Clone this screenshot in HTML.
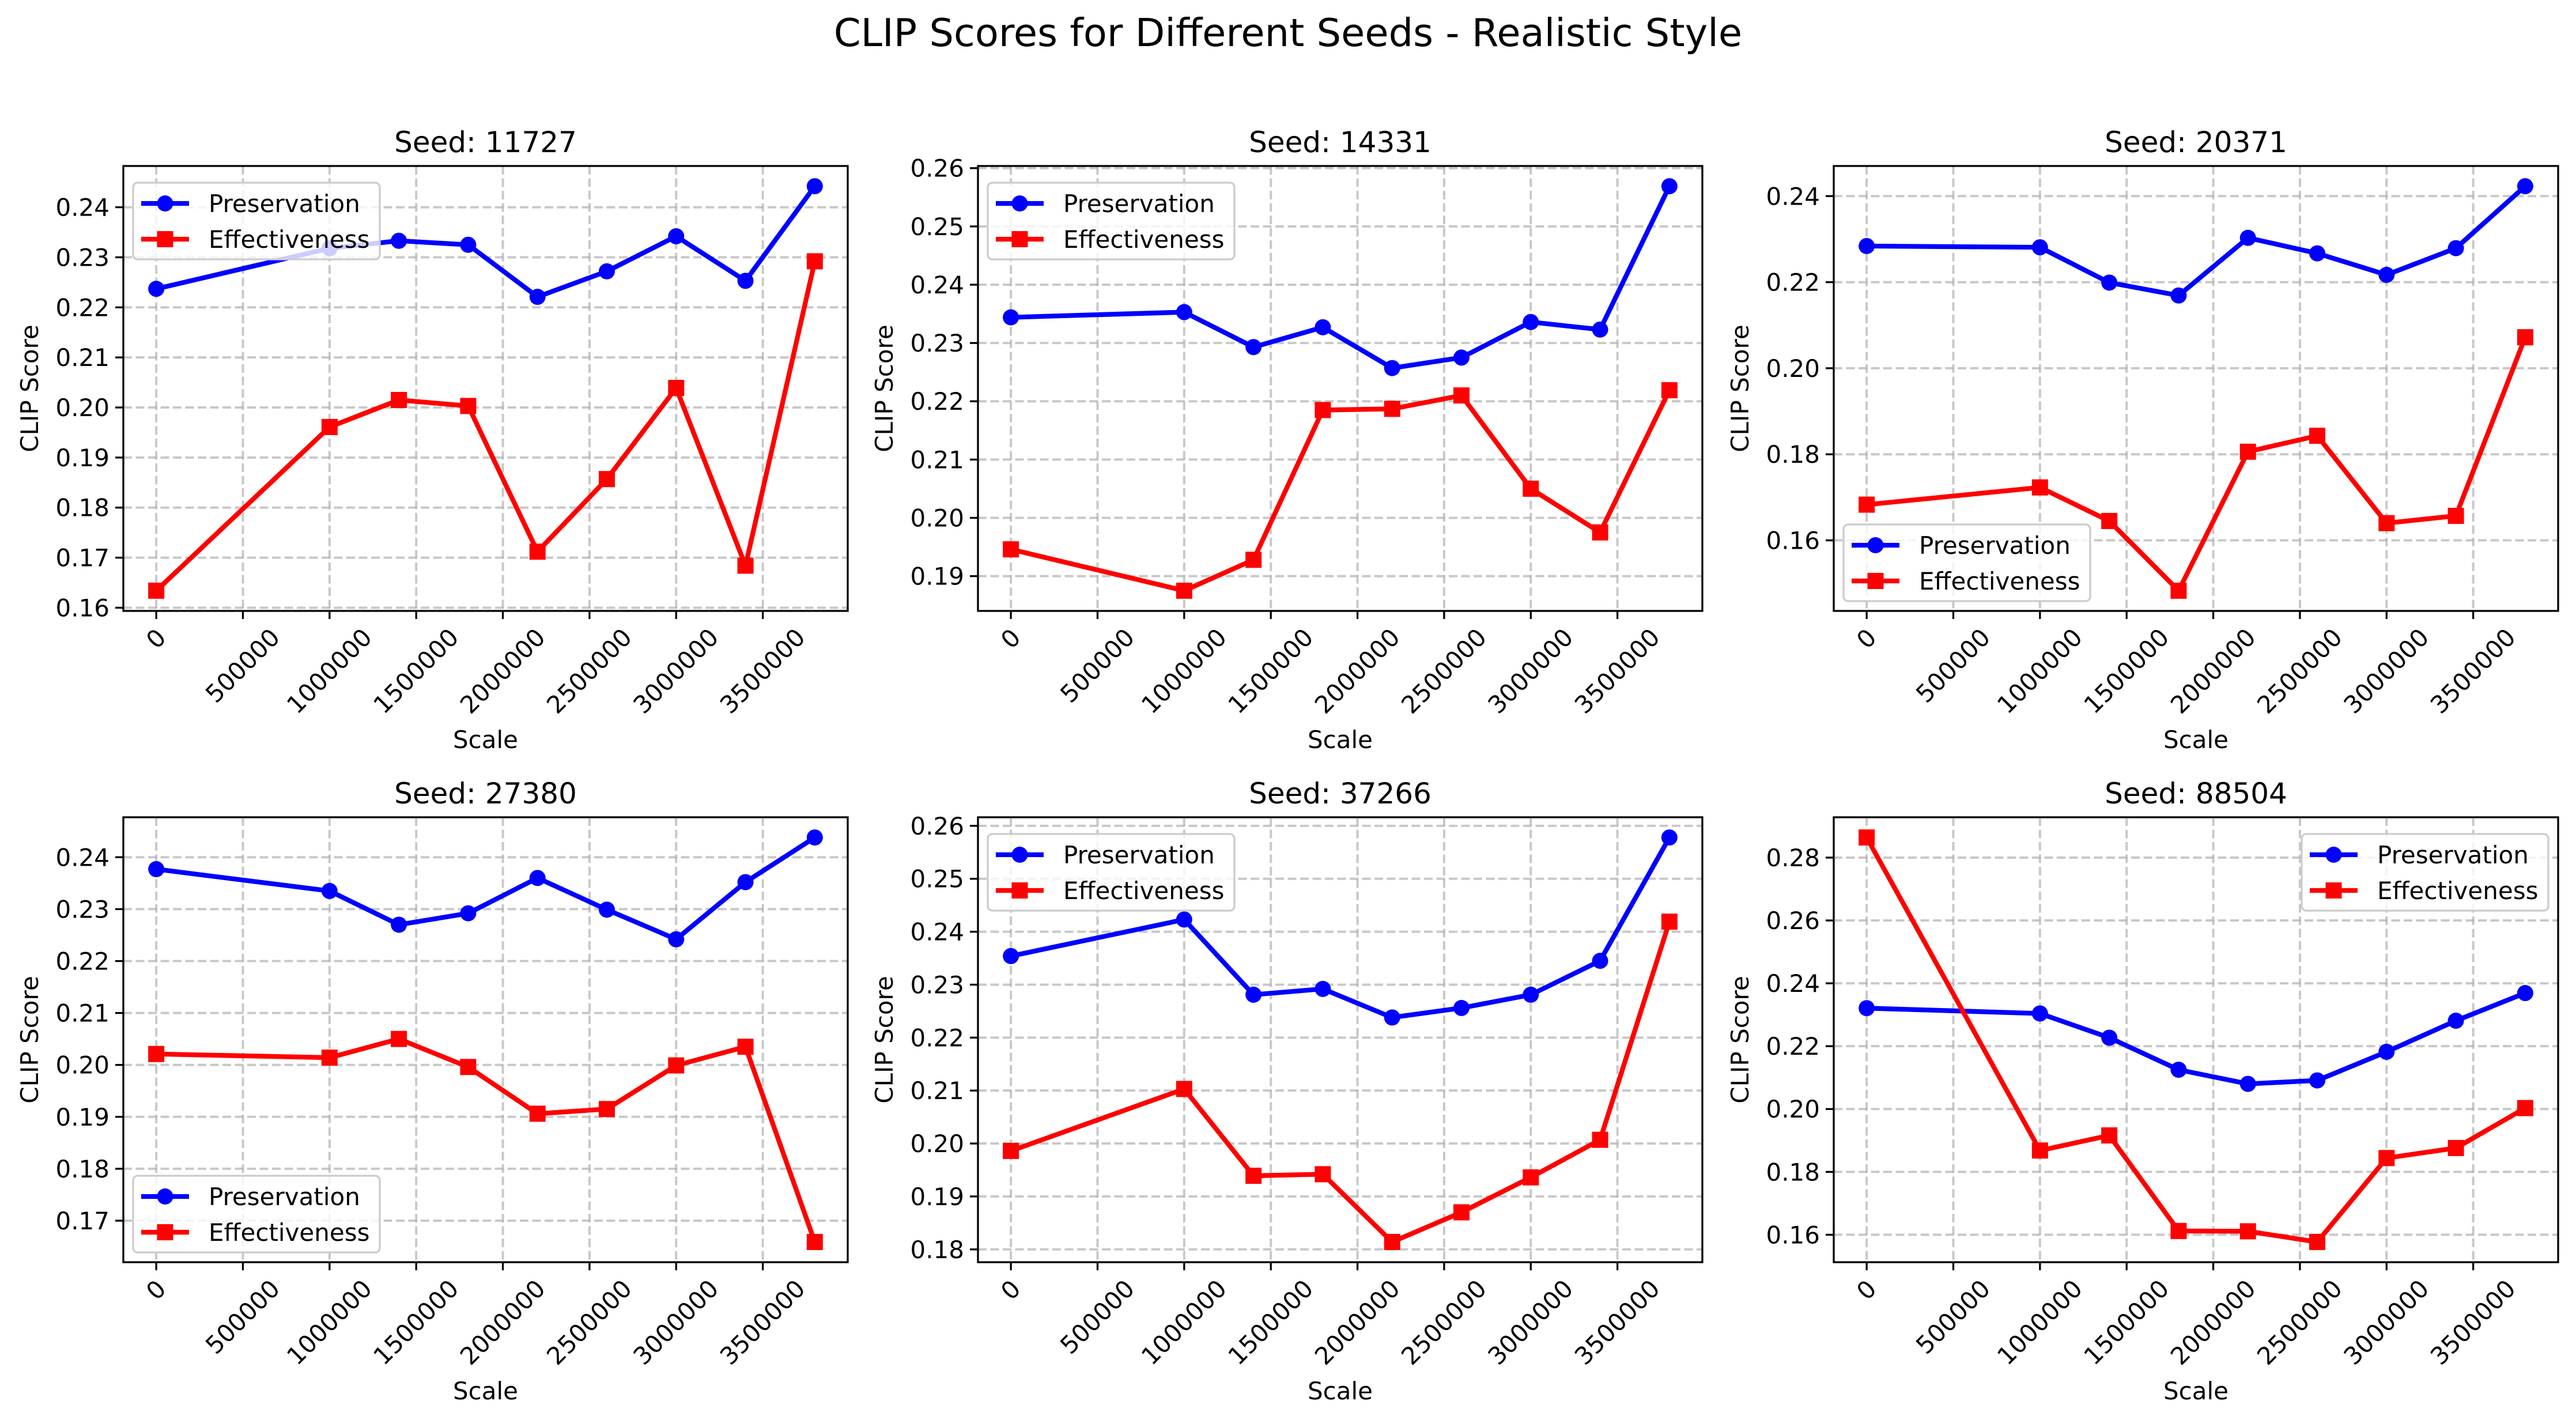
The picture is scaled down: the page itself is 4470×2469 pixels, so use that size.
<!DOCTYPE html>
<html><head><meta charset="utf-8"><style>
body{margin:0;background:#fff}
svg text{font-family:"DejaVu Sans","Liberation Sans",sans-serif;fill:#000}
</style></head><body>
<svg id="fig" width="4470" height="2464" viewBox="0 0 4470 2464" xmlns="http://www.w3.org/2000/svg">
<rect width="4470" height="2464" fill="#fff"/>
<text x="2235" y="80" font-size="67" text-anchor="middle">CLIP Scores for Different Seeds - Realistic Style</text>
</svg>
<script>
const seeds = ["11727","14331","20371","27380","37266","88504"];
const scales = [0,1000000,1400000,1800000,2200000,2600000,3000000,3400000,3800000];
const xTicks = [0,500000,1000000,1500000,2000000,2500000,3000000,3500000];
const pres1 = [.2237,.2318,.2333,.2325,.2221,.2272,.2342,.2253,.2442];
const eff1 = [.1634,.1961,.2015,.2003,.1712,.1857,.2039,.1684,.2292];
const pres2 = [.2344,.2353,.2293,.2327,.2257,.2275,.2336,.2323,.2569];
const eff2 = [.1946,.1875,.1928,.2185,.2187,.2210,.2050,.1975,.2219];
const pres3 = [.2284,.2281,.2199,.2169,.2303,.2267,.2217,.2279,.2423];
const eff3 = [.1683,.1723,.1645,.1483,.1806,.1843,.1640,.1657,.2072];
const pres4 = [.2377,.2335,.2270,.2292,.2360,.2299,.2242,.2352,.2438];
const eff4 = [.2021,.2014,.2050,.1996,.1906,.1915,.1999,.2035,.1659];
const pres5 = [.2354,.2423,.2281,.2292,.2238,.2256,.2281,.2345,.2578];
const eff5 = [.1986,.2103,.1939,.1942,.1814,.1870,.1936,.2007,.2419];
const pres6 = [.2321,.2304,.2227,.2125,.2080,.2091,.2182,.2281,.2369];
const eff6 = [.2864,.1868,.1916,.1612,.1611,.1577,.1844,.1876,.2003];
const yStep = [0.01,0.01,0.02,0.01,0.01,0.02];
const legendLoc = ["ul","ul","ll","ll","ul","ur"];
const presAll=[pres1,pres2,pres3,pres4,pres5,pres6];
const effAll=[eff1,eff2,eff3,eff4,eff5,eff6];

const NS="http://www.w3.org/2000/svg";
const svg=document.getElementById('fig');
function mk(tag,attrs,parent){const e=document.createElementNS(NS,tag);for(const k in attrs)e.setAttribute(k,attrs[k]);(parent||svg).appendChild(e);return e;}
const colL=[214,1697,3182], rowT=[288,1418], W=1257, H=772;
const MR=14;
for(let i=0;i<6;i++){
  const L=colL[i%3], T=rowT[Math.floor(i/3)];
  const g=mk('g',{});
  
  
  const p=presAll[i], e=effAll[i];
  const all=p.concat(e);
  let mn=Math.min(...all), mx=Math.max(...all), r=mx-mn;
  const y0=mn-0.05*r, y1=mx+0.05*r;
  const xr=scales[scales.length-1]-scales[0];
  const x0=scales[0]-0.05*xr, x1=scales[scales.length-1]+0.05*xr;
  const X=v=>L+(v-x0)/(x1-x0)*W;
  const Y=v=>T+H-(v-y0)/(y1-y0)*H;
  xTicks.forEach(t=>{
    const x=X(t);
    const gl=mk('line',{x1:x,x2:x,y1:T,y2:T+H,stroke:'#b0b0b0','stroke-opacity':0.7,'stroke-width':4,'stroke-dasharray':'15,6.5'},g);
    
    
    mk('line',{x1:x,x2:x,y1:T+H,y2:T+H+14,stroke:'#000','stroke-width':3.3},g);
    const s=String(t);
    const hw=(s.length*26.5*0.707+42*0.707*0.75)/2;
    const cy=T+H+14+14+hw;
    const tx=mk('text',{x:x,y:cy+14,'font-size':42,'text-anchor':'middle',transform:`rotate(-45 ${x} ${cy})`},g);
    tx.textContent=s;
    
    
  });
  const st=yStep[i];
  for(let k=Math.ceil(y0/st-1e-9);k*st<=y1+1e-9;k++){
    const v=k*st, y=Y(v);
    const gl=mk('line',{x1:L,x2:L+W,y1:y,y2:y,stroke:'#b0b0b0','stroke-opacity':0.7,'stroke-width':4,'stroke-dasharray':'15,6.5'},g);
    
    
    mk('line',{x1:L-14,x2:L,y1:y,y2:y,stroke:'#000','stroke-width':3.3},g);
    const tx=mk('text',{x:L-24,y:y+15,'font-size':42,'text-anchor':'end'},g);
    tx.textContent=v.toFixed(2);
    
    
  }
  const drawSeries=(vals,color,marker,name)=>{
    const sg=mk('g',{},g);
    
    
    mk('polyline',{points:vals.map((v,j)=>X(scales[j])+','+Y(v)).join(' '),fill:'none',stroke:color,'stroke-width':8.3,'stroke-linejoin':'round'},sg);
    vals.forEach((v,j)=>{
      let m;
      if(marker==='o') m=mk('circle',{cx:X(scales[j]),cy:Y(v),r:MR,fill:color},sg);
      else m=mk('rect',{x:X(scales[j])-MR,y:Y(v)-MR,width:2*MR,height:2*MR,fill:color},sg);
      
      
    });
  };
  drawSeries(p,'#0000ff','o','preservation');
  drawSeries(e,'#ff0000','s','effectiveness');
  const fr=mk('rect',{x:L,y:T,width:W,height:H,fill:'none',stroke:'#000','stroke-width':3.3},g);
  
  
  const tt=mk('text',{x:L+W/2,y:T-24,'font-size':50,'text-anchor':'middle'},g);
  tt.textContent='Seed: '+seeds[i];
  
  
  const xl=mk('text',{x:L+W/2,y:T+H+238,'font-size':42,'text-anchor':'middle'},g);
  xl.textContent='Scale';
  
  
  const yx=L-148, yy=T+H/2;
  const yl=mk('text',{x:yx,y:yy,'font-size':42,'text-anchor':'middle',transform:`rotate(-90 ${yx} ${yy})`},g);
  yl.textContent='CLIP Score';
  
  
  const lw=428, lh=133, loc=legendLoc[i];
  const lx= loc==='ur' ? L+W-17-lw : L+17;
  const ly= loc==='ll' ? T+H-17-lh : T+29;
  const lg=mk('g',{},g);
  
  
  mk('rect',{x:lx,y:ly,width:lw,height:lh,rx:8,fill:'#fff','fill-opacity':0.8,stroke:'#cccccc','stroke-width':3.3},lg);
  [['Preservation','#0000ff','o'],['Effectiveness','#ff0000','s']].forEach((it,k)=>{
    const cy=ly+36+k*62;
    const en=mk('g',{},lg);
    
    
    mk('line',{x1:lx+14,x2:lx+97,y1:cy,y2:cy,stroke:it[1],'stroke-width':8.3},en);
    if(it[2]==='o') mk('circle',{cx:lx+55.5,cy:cy,r:MR,fill:it[1]},en);
    else mk('rect',{x:lx+55.5-MR,y:cy-MR,width:2*MR,height:2*MR,fill:it[1]},en);
    const t=mk('text',{x:lx+131,y:cy+15,'font-size':42},en);
    t.textContent=it[0];
  });
}
</script>
</body></html>
